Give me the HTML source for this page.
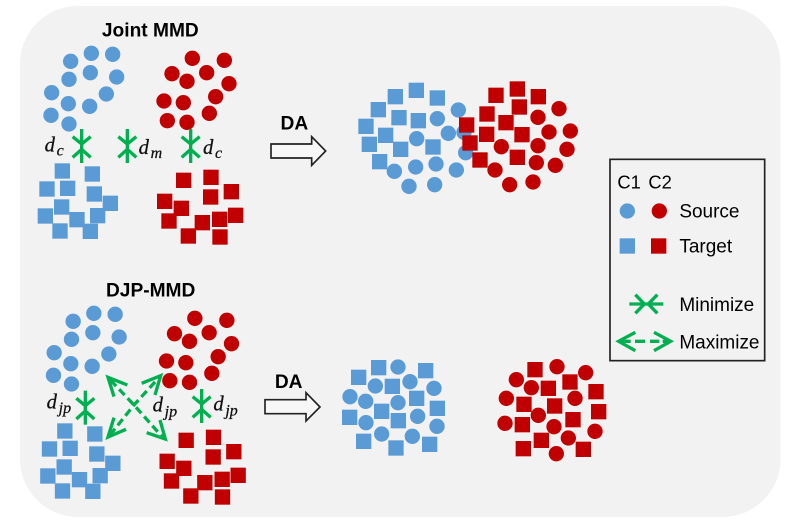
<!DOCTYPE html>
<html><head><meta charset="utf-8"><style>
html,body{margin:0;padding:0;background:#fff;width:801px;height:526px;overflow:hidden}
svg{display:block}
.t{font-family:"Liberation Sans",sans-serif;fill:#000}
.b{font-weight:bold;font-size:57.5px;text-anchor:middle}
.l{font-size:57px}
.c{font-size:55px}
.m{font-family:"Liberation Serif",serif;font-style:italic;fill:#111;stroke:#111;stroke-width:.8}
.B{fill:#5B9BD5;stroke:#5B9BD5;stroke-width:2}
.R{fill:#C00000;stroke:#C00000;stroke-width:2}
</style></head><body>
<svg width="801" height="526" viewBox="0 0 801 526" xmlns="http://www.w3.org/2000/svg">
<defs>
<g id="arrV" fill="none" stroke="#00B050" stroke-width="10"><path d="M0-51V51"/><path d="M-27-28L0-6L27-28M-27 34L0 10L27 34"/></g>
<g id="top">
<g class="B">
<circle cx="152" cy="154" r="22"/><circle cx="214" cy="130" r="22"/><circle cx="278" cy="133" r="22"/><circle cx="147" cy="208" r="22"/><circle cx="211" cy="188" r="22"/><circle cx="290" cy="201" r="22"/><circle cx="95" cy="248" r="22"/><circle cx="259" cy="252" r="22"/><circle cx="145" cy="281" r="22"/><circle cx="209" cy="289" r="22"/><circle cx="93" cy="316" r="22"/><circle cx="147" cy="342" r="22"/>
<rect x="105" y="461" width="44" height="44"/><rect x="195" y="470" width="44" height="44"/><rect x="59" y="515" width="44" height="44"/><rect x="121" y="513" width="44" height="44"/><rect x="201" y="530" width="44" height="44"/><rect x="249" y="558" width="44" height="44"/><rect x="103" y="569" width="44" height="44"/><rect x="54" y="596" width="44" height="44"/><rect x="211" y="595" width="44" height="44"/><rect x="149" y="607" width="44" height="44"/><rect x="98" y="641" width="44" height="44"/><rect x="189" y="642" width="44" height="44"/>
</g>
<g class="R">
<circle cx="517" cy="145" r="22"/><circle cx="613" cy="151" r="22"/><circle cx="456" cy="191" r="22"/><circle cx="560" cy="188" r="22"/><circle cx="501" cy="214" r="22"/><circle cx="627" cy="221" r="22"/><circle cx="587" cy="260" r="22"/><circle cx="432" cy="273" r="22"/><circle cx="490" cy="278" r="22"/><circle cx="568" cy="310" r="22"/><circle cx="442" cy="332" r="22"/><circle cx="501" cy="337" r="22"/>
<rect x="469" y="489" width="44" height="44"/><rect x="551" y="480" width="44" height="44"/><rect x="612" y="523" width="44" height="44"/><rect x="550" y="539" width="44" height="44"/><rect x="412" y="552" width="44" height="44"/><rect x="462" y="573" width="44" height="44"/><rect x="425" y="611" width="44" height="44"/><rect x="525" y="616" width="44" height="44"/><rect x="577" y="606" width="44" height="44"/><rect x="625" y="594" width="44" height="44"/><rect x="483" y="656" width="44" height="44"/><rect x="578" y="659" width="44" height="44"/>
</g>
</g>
</defs>
<rect x="20" y="6" width="760.5" height="511" rx="58" ry="58" fill="#F2F2F2"/>

<!-- Joint MMD panel -->
<g transform="translate(20,10) scale(.33333)">
<use href="#top"/>
<use href="#arrV" x="185" y="408"/><use href="#arrV" x="322" y="408"/><use href="#arrV" x="512" y="408"/>
<text class="t b" x="391" y="80">Joint MMD</text>
<text class="m" x="74" y="425" font-size="62">d</text><text class="m" x="110" y="437" font-size="48">c</text>
<text class="m" x="356" y="432" font-size="62">d</text><text class="m" x="392" y="444" font-size="48">m</text>
<text class="m" x="549" y="432" font-size="62">d</text><text class="m" x="585" y="444" font-size="48">c</text>
</g>

<!-- DJP-MMD panel -->
<g transform="translate(20,270) scale(.33333)">
<use href="#top" x="7.5"/>
<use href="#arrV" x="196" y="413"/><use href="#arrV" x="545" y="408"/>
<g fill="none" stroke="#00B050" stroke-width="10">
<path d="M272 331L342 405L428 502" stroke-dasharray="24 13"/>
<path d="M270 495L342 405L415 325" stroke-dasharray="24 13"/>
<path d="M322 345L264 322L282 380M365 340L422 317L405 375M318 478L264 501L282 443M380 488L436 507L420 450"/>
</g>
<text class="m" x="80" y="415" font-size="62">d</text><text class="m" x="116" y="429" font-size="48">jp</text>
<text class="m" x="398" y="425" font-size="62">d</text><text class="m" x="434" y="439" font-size="48">jp</text>
<text class="m" x="580" y="422" font-size="62">d</text><text class="m" x="616" y="436" font-size="48">jp</text>
<text class="t b" x="392" y="80">DJP-MMD</text>
</g>

<!-- Top result -->
<g transform="translate(260,70) scale(.33333)">
<path d="M33 222H155V200L197 243L155 286V264H33Z" fill="#F7F7F7" stroke="#222" stroke-width="5"/>
<text class="t b" x="103" y="178">DA</text>
<g class="B">
<circle cx="595" cy="120" r="22"/><circle cx="532" cy="146" r="22"/><circle cx="565" cy="190" r="22"/><circle cx="612" cy="187" r="22"/><circle cx="470" cy="206" r="22"/><circle cx="617" cy="248" r="22"/><circle cx="467" cy="291" r="22"/><circle cx="528" cy="282" r="22"/><circle cx="589" cy="300" r="22"/><circle cx="403" cy="304" r="22"/><circle cx="447" cy="349" r="22"/><circle cx="524" cy="344" r="22"/>
<rect x="384" y="58" width="44" height="44"/><rect x="447" y="39" width="44" height="44"/><rect x="510" y="62" width="44" height="44"/><rect x="333" y="97" width="44" height="44"/><rect x="395" y="121" width="44" height="44"/><rect x="453" y="130" width="44" height="44"/><rect x="296" y="147" width="44" height="44"/><rect x="355" y="174" width="44" height="44"/><rect x="306" y="201" width="44" height="44"/><rect x="400" y="216" width="44" height="44"/><rect x="497" y="209" width="44" height="44"/><rect x="337" y="253" width="44" height="44"/>
</g>
<g class="R">
<circle cx="897" cy="116" r="22"/><circle cx="834" cy="142" r="22"/><circle cx="867" cy="186" r="22"/><circle cx="931" cy="183" r="22"/><circle cx="724" cy="230" r="22"/><circle cx="834" cy="227" r="22"/><circle cx="921" cy="238" r="22"/><circle cx="829" cy="278" r="22"/><circle cx="886" cy="286" r="22"/><circle cx="705" cy="300" r="22"/><circle cx="749" cy="344" r="22"/><circle cx="819" cy="336" r="22"/>
<rect x="686" y="54" width="44" height="44"/><rect x="750" y="35" width="44" height="44"/><rect x="813" y="58" width="44" height="44"/><rect x="756" y="89" width="44" height="44"/><rect x="659" y="110" width="44" height="44"/><rect x="716" y="136" width="44" height="44"/><rect x="598" y="143" width="44" height="44"/><rect x="658" y="171" width="44" height="44"/><rect x="764" y="172" width="44" height="44"/><rect x="608" y="197" width="44" height="44"/><rect x="638" y="248" width="44" height="44"/><rect x="750" y="240" width="44" height="44"/>
</g>
</g>

<!-- Bottom result -->
<g transform="translate(260,350) scale(.33333)">
<path d="M15 149H138V128L180 171L138 213V191H15Z" fill="#F7F7F7" stroke="#222" stroke-width="5"/>
<text class="t b" x="86" y="114">DA</text>
<g class="B">
<circle cx="414" cy="51" r="22"/><circle cx="346" cy="108" r="22"/><circle cx="450" cy="95" r="22"/><circle cx="522" cy="115" r="22"/><circle cx="270" cy="140" r="22"/><circle cx="317" cy="154" r="22"/><circle cx="414" cy="158" r="22"/><circle cx="473" cy="199" r="22"/><circle cx="318" cy="218" r="22"/><circle cx="531" cy="229" r="22"/><circle cx="365" cy="252" r="22"/><circle cx="457" cy="259" r="22"/>
<rect x="334" y="31" width="44" height="44"/><rect x="475" y="40" width="44" height="44"/><rect x="274" y="60" width="44" height="44"/><rect x="375" y="87" width="44" height="44"/><rect x="448" y="123" width="44" height="44"/><rect x="510" y="153" width="44" height="44"/><rect x="343" y="162" width="44" height="44"/><rect x="247" y="180" width="44" height="44"/><rect x="393" y="190" width="44" height="44"/><rect x="289" y="252" width="44" height="44"/><rect x="386" y="272" width="44" height="44"/><rect x="487" y="261" width="44" height="44"/>
</g>
<g class="R">
<circle cx="891" cy="50" r="22"/><circle cx="977" cy="68" r="22"/><circle cx="769" cy="89" r="22"/><circle cx="814" cy="113" r="22"/><circle cx="945" cy="145" r="22"/><circle cx="739" cy="145" r="22"/><circle cx="835" cy="196" r="22"/><circle cx="735" cy="220" r="22"/><circle cx="882" cy="230" r="22"/><circle cx="1005" cy="244" r="22"/><circle cx="925" cy="264" r="22"/><circle cx="889" cy="311" r="22"/>
<rect x="803" y="37" width="44" height="44"/><rect x="908" y="74" width="44" height="44"/><rect x="843" y="93" width="44" height="44"/><rect x="986" y="103" width="44" height="44"/><rect x="770" y="141" width="44" height="44"/><rect x="862" y="146" width="44" height="44"/><rect x="994" y="163" width="44" height="44"/><rect x="917" y="187" width="44" height="44"/><rect x="765" y="202" width="44" height="44"/><rect x="822" y="249" width="44" height="44"/><rect x="768" y="274" width="44" height="44"/><rect x="948" y="276" width="44" height="44"/>
</g>
</g>

<!-- Legend -->
<g transform="translate(600,150) scale(.33333)">
<rect x="30" y="28" width="464" height="604" fill="#F2F2F2" stroke="#222" stroke-width="5"/>
<text class="t c" x="52" y="115">C1</text><text class="t c" x="145" y="115">C2</text>
<circle class="B" cx="82" cy="183" r="22"/><circle class="R" cx="178" cy="183" r="22"/>
<rect class="B" x="60" y="266" width="44" height="44"/><rect class="R" x="154" y="266" width="44" height="44"/>
<text class="t l" x="238" y="203">Source</text>
<text class="t l" x="238" y="308">Target</text>
<text class="t l" x="238" y="483">Minimize</text>
<text class="t l" x="238" y="595">Maximize</text>
<g fill="none" stroke="#00B050" stroke-width="10">
<path d="M88 462H190"/><path d="M106 434L133 462L106 490M172 434L145 462L172 490"/>
<path d="M60 574H92M105 574H135M150 574H178M188 574H212"/>
<path d="M106 547L56 574L106 602M162 547L212 574L162 602"/>
</g>
</g>
</svg>
</body></html>
